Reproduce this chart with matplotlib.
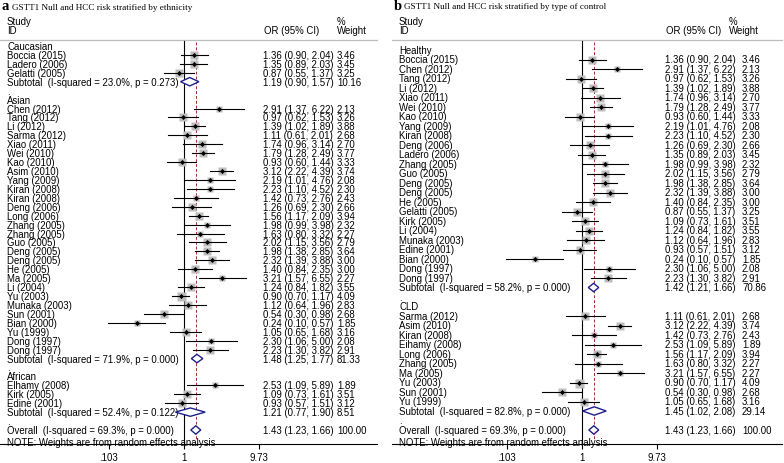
import numpy as np
import matplotlib
matplotlib.use("Agg")
import matplotlib.pyplot as plt
from matplotlib.patches import Polygon

plt.rcParams['font.family'] = ['Liberation Sans', 'DejaVu Sans']

nan = np.nan

# ---- panel a: stratified by ethnicity ----
a_labels = ["Caucasian", "Boccia (2015)", "Ladero (2006)", "Gelatti (2005)",
            "Subtotal  (I-squared = 23.0%, p = 0.273)", ".",
            "Asian", "Chen (2012)", "Tang (2012)", "Li (2012)", "Sarma (2012)", "Xiao (2011)",
            "Wei (2010)", "Kao (2010)", "Asim (2010)", "Yang (2009)", "Kiran (2008)", "Kiran (2008)",
            "Deng (2006)", "Long (2006)", "Zhang (2005)", "Zhang (2005)", "Guo (2005)", "Deng (2005)",
            "Deng (2005)", "He (2005)", "Ma (2005)", "Li (2004)", "Yu (2003)", "Munaka (2003)",
            "Sun (2001)", "Bian (2000)", "Yu (1999)", "Dong (1997)", "Dong (1997)",
            "Subtotal  (I-squared = 71.9%, p = 0.000)", ".",
            "African", "Elhamy (2008)", "Kirk (2005)", "Edine (2001)",
            "Subtotal  (I-squared = 52.4%, p = 0.122)", ".",
            "Overall  (I-squared = 69.3%, p = 0.000)"]
a_kind = (["group"] + ["study"] * 3 + ["sub", "blank"] +
          ["group"] + ["study"] * 28 + ["sub", "blank"] +
          ["group"] + ["study"] * 3 + ["sub", "blank"] + ["overall"])
a_or = [nan, 1.36, 1.35, 0.87, 1.19, nan,
        nan, 2.91, 0.97, 1.39, 1.11, 1.74, 1.79, 0.93, 3.12, 2.19, 2.23, 1.42, 1.26, 1.56,
        1.98, 1.63, 2.02, 1.98, 2.32, 1.40, 3.21, 1.24, 0.90, 1.12, 0.54, 0.24, 1.05, 2.30, 2.23,
        1.48, nan,
        nan, 2.53, 1.09, 0.93, 1.21, nan, 1.43]
a_lo = [nan, 0.90, 0.89, 0.55, 0.90, nan,
        nan, 1.37, 0.62, 1.02, 0.61, 0.96, 1.28, 0.60, 2.22, 1.01, 1.10, 0.73, 0.69, 1.17,
        0.99, 0.80, 1.15, 1.38, 1.39, 0.84, 1.57, 0.84, 0.70, 0.64, 0.30, 0.10, 0.65, 1.06, 1.30,
        1.25, nan,
        nan, 1.09, 0.73, 0.57, 0.77, nan, 1.23]
a_hi = [nan, 2.04, 2.03, 1.37, 1.57, nan,
        nan, 6.22, 1.53, 1.89, 2.01, 3.14, 2.49, 1.44, 4.39, 4.76, 4.52, 2.76, 2.30, 2.09,
        3.98, 3.32, 3.56, 2.85, 3.88, 2.35, 6.55, 1.82, 1.17, 1.96, 0.98, 0.57, 1.68, 5.00, 3.82,
        1.77, nan,
        nan, 5.89, 1.61, 1.51, 1.90, nan, 1.66]
a_wt = [nan, 3.46, 3.45, 3.25, 10.16, nan,
        nan, 2.13, 3.26, 3.88, 2.68, 2.70, 3.77, 3.33, 3.74, 2.08, 2.30, 2.43, 2.66, 3.94,
        2.32, 2.27, 2.79, 3.64, 3.00, 3.00, 2.27, 3.55, 4.09, 2.83, 2.68, 1.85, 3.16, 2.08, 2.91,
        81.33, nan,
        nan, 1.89, 3.51, 3.12, 8.51, nan, 100.00]

# ---- panel b: stratified by type of control ----
b_labels = ["Healthy", "Boccia (2015)", "Chen (2012)", "Tang (2012)", "Li (2012)", "Xiao (2011)",
            "Wei (2010)", "Kao (2010)", "Yang (2009)", "Kiran (2008)", "Deng (2006)", "Ladero (2006)",
            "Zhang (2005)", "Guo (2005)", "Deng (2005)", "Deng (2005)", "He (2005)", "Gelatti (2005)",
            "Kirk (2005)", "Li (2004)", "Munaka (2003)", "Edine (2001)", "Bian (2000)",
            "Dong (1997)", "Dong (1997)",
            "Subtotal  (I-squared = 58.2%, p = 0.000)", ".",
            "CLD", "Sarma (2012)", "Asim (2010)", "Kiran (2008)", "Eihamy (2008)", "Long (2006)",
            "Zhang (2005)", "Ma (2005)", "Yu (2003)", "Sun (2001)", "Yu (1999)",
            "Subtotal  (I-squared = 82.8%, p = 0.000)", ".",
            "Overall  (I-squared = 69.3%, p = 0.000)"]
b_kind = (["group"] + ["study"] * 24 + ["sub", "blank"] +
          ["group"] + ["study"] * 10 + ["sub", "blank"] + ["overall"])
b_or = [nan, 1.36, 2.91, 0.97, 1.39, 1.74, 1.79, 0.93, 2.19, 2.23, 1.26, 1.35, 1.98, 2.02,
        1.98, 2.32, 1.40, 0.87, 1.09, 1.24, 1.12, 0.93, 0.24, 2.30, 2.23, 1.42, nan,
        nan, 1.11, 3.12, 1.42, 2.53, 1.56, 1.63, 3.21, 0.90, 0.54, 1.05, 1.45, nan, 1.43]
b_lo = [nan, 0.90, 1.37, 0.62, 1.02, 0.96, 1.28, 0.60, 1.01, 1.10, 0.69, 0.89, 0.99, 1.15,
        1.38, 1.39, 0.84, 0.55, 0.73, 0.84, 0.64, 0.57, 0.10, 1.06, 1.30, 1.21, nan,
        nan, 0.61, 2.22, 0.73, 1.09, 1.17, 0.80, 1.57, 0.70, 0.30, 0.65, 1.02, nan, 1.23]
b_hi = [nan, 2.04, 6.22, 1.53, 1.89, 3.14, 2.49, 1.44, 4.76, 4.52, 2.30, 2.03, 3.98, 3.56,
        2.85, 3.88, 2.35, 1.37, 1.61, 1.82, 1.96, 1.51, 0.57, 5.00, 3.82, 1.66, nan,
        nan, 2.01, 4.39, 2.76, 5.89, 2.09, 3.32, 6.55, 1.17, 0.98, 1.68, 2.08, nan, 1.66]
b_wt = [nan, 3.46, 2.13, 3.26, 3.88, 2.70, 3.77, 3.33, 2.08, 2.30, 2.66, 3.45, 2.32, 2.79,
        3.64, 3.00, 3.00, 3.25, 3.51, 3.55, 2.83, 3.12, 1.85, 2.08, 2.91, 70.86, nan,
        nan, 2.68, 3.74, 2.43, 1.89, 3.94, 2.27, 2.27, 4.09, 2.68, 3.16, 29.14, nan, 100.00]

ticks = [0.103, 1, 9.73]
tick_labels = [".103", "1", "9.73"]
pooled = 1.43

FS = 6.9
W = 392.0           # panel width in pixels
H = 464.0


def draw_panel(ax, letter, title, labels, kind, est, lo, hi, wt,
               null_px, y0, dy, or_px, wt_px, wthead_px, line_end_px):
    ppd = 76.0  # pixels per decade
    ax.set_xscale('log')
    ax.set_xlim(10 ** (-null_px / ppd), 10 ** ((W - null_px) / ppd))
    row = lambda py: (py - y0) / dy
    ax.set_ylim(row(H), row(0))
    tr = ax.get_yaxis_transform()   # x in axes fraction, y in data
    fx = lambda px: px / W
    xdat = lambda px: 10 ** ((px - null_px) / ppd)

    # title
    ax.text(fx(2), row(7), letter, transform=tr, family='Liberation Serif',
            fontweight='bold', fontsize=10.5, va='center')
    ax.text(fx(12), row(7.5), title, transform=tr, family='Liberation Serif',
            fontsize=6.6, va='center')
    # header
    ax.text(fx(7), row(22), "Study", transform=tr, fontsize=FS, va='center')
    ax.text(fx(7), row(31), "ID", transform=tr, fontsize=FS, va='center')
    ax.text(fx(or_px + 1), row(31), "OR (95% CI)", transform=tr, fontsize=FS, va='center')
    ax.text(fx(wthead_px), row(22), "%", transform=tr, fontsize=FS, va='center')
    ax.text(fx(wthead_px), row(31), "Weight", transform=tr, fontsize=FS, va='center')
    ax.plot([xdat(0), xdat(line_end_px)], [row(41), row(41)], color='#bdbdbd', lw=0.9)

    # reference lines
    ax.plot([1, 1], [row(41.5), row(445)], color='black', lw=0.8)
    ax.plot([pooled, pooled], [row(43), row(440)], color='#a0302a', lw=0.7,
            dashes=(3, 2))

    for i, (lab, k) in enumerate(zip(labels, kind)):
        ax.text(fx(7), i, lab, transform=tr, fontsize=FS, va='center')
        if k in ('study', 'sub', 'overall'):
            ax.text(fx(or_px), i, "%.2f (%.2f, %.2f)" % (est[i], lo[i], hi[i]),
                    transform=tr, fontsize=FS, va='center')
            ax.text(fx(wt_px), i, "%.2f" % wt[i], transform=tr, fontsize=FS, va='center')
        if k == 'study':
            side = 9.0 * np.sqrt(wt[i] / 4.09) * 0.72
            ax.plot([est[i]], [i], marker='s', ms=side, color='#bdbdbd', mec='none', zorder=2)
            ax.plot([lo[i], hi[i]], [i, i], color='black', lw=0.8, zorder=3)
            ax.plot([est[i]], [i], marker='D', ms=2.6, color='black', mec='none', zorder=4)
        elif k in ('sub', 'overall'):
            h = 4.2 / dy
            d = Polygon([[lo[i], i], [est[i], i - h], [hi[i], i], [est[i], i + h]],
                        closed=True, fc='white', ec='#1f1f8c', lw=1.0, zorder=4)
            ax.add_patch(d)

    ax.text(fx(7), row(443), "NOTE: Weights are from random effects analysis",
            transform=tr, fontsize=FS, va='center')

    # x axis
    for s in ('top', 'left', 'right'):
        ax.spines[s].set_visible(False)
    ax.spines['bottom'].set_position(('data', row(445)))
    ax.spines['bottom'].set_bounds(xdat(0), xdat(line_end_px))
    ax.spines['bottom'].set_linewidth(0.8)
    ax.set_yticks([])
    ax.set_xticks(ticks)
    ax.set_xticklabels(tick_labels)
    ax.xaxis.set_minor_locator(matplotlib.ticker.NullLocator())
    ax.tick_params(axis='x', direction='out', length=3.8, width=0.8, pad=2.2,
                   labelsize=FS)
    ax.patch.set_visible(False)


fig = plt.figure(figsize=(7.84, 4.64), dpi=100)
ax_a = fig.add_axes([0, 0, 0.5, 1])
ax_b = fig.add_axes([0.5, 0, 0.5, 1])

draw_panel(ax_a, "a", "GSTT1 Null and HCC risk stratified by ethnicity",
           a_labels, a_kind, a_or, a_lo, a_hi, a_wt,
           null_px=184, y0=47, dy=8.93, or_px=263, wt_px=337, wthead_px=337,
           line_end_px=377)
draw_panel(ax_b, "b", "GSTT1 Null and HCC risk stratified by type of control",
           b_labels, b_kind, b_or, b_lo, b_hi, b_wt,
           null_px=190, y0=51, dy=9.5, or_px=273, wt_px=350, wthead_px=337,
           line_end_px=390)

fig.savefig("out.png", dpi=100)
